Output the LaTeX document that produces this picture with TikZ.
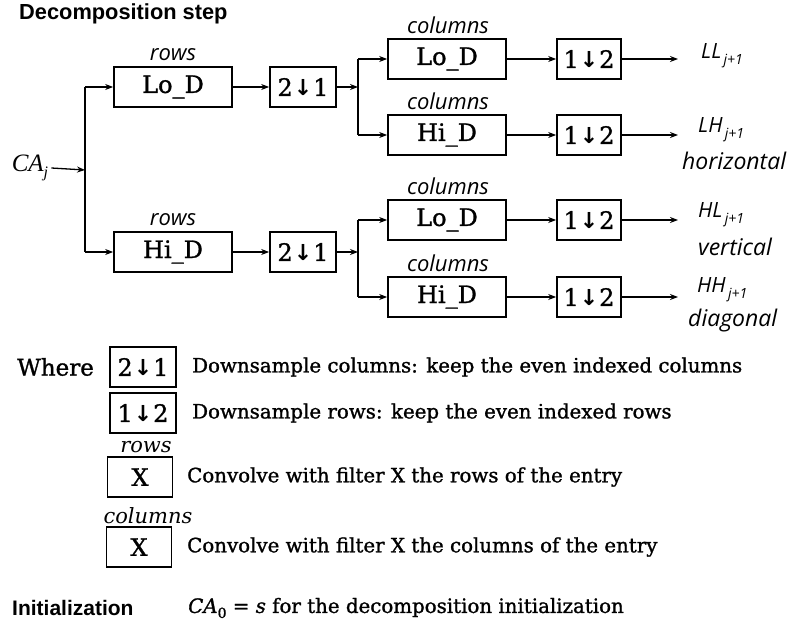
\documentclass[tikz,border=0pt]{standalone}
\usepackage{fontspec}
\setmainfont{DejaVu Serif}
\newfontfamily\srf{DejaVu Serif}[FakeBold=1.2]
\newfontfamily\labf{Open Sans}
\newfontfamily\helv{Liberation Sans}
\newfontfamily\tms{Liberation Serif}
\newfontfamily\djs{DejaVu Sans}
\usetikzlibrary{arrows.meta}

\newcommand\dnarrow{\raisebox{0.5pt}{\djs\bfseries\fontsize{22}{22}\selectfont ↓}}
\newcommand\dnbox[2]{#1\hspace{1pt}\dnarrow\hspace{1pt}#2}
\newcommand\subj[1]{\raisebox{-6pt}{\fontsize{14}{14}\selectfont\,#1}}

\tikzset{
  blk/.style={draw, line width=1.7pt, minimum height=40pt, inner sep=0pt, font=\srf\fontsize{24}{26}\selectfont},
  filt/.style={blk, minimum width=118pt},
  dsb/.style={blk, minimum width=66pt},
  conn/.style={line width=1.3pt, -{Stealth[length=8pt,width=6pt]}},
  wire/.style={line width=1.3pt},
  toplab/.style={font=\labf\itshape\fontsize{22}{24}\selectfont, inner sep=0pt},
  outlab/.style={font=\labf\itshape\fontsize{21}{23}\selectfont, inner sep=0pt, anchor=west},
  desclab/.style={font=\labf\itshape\fontsize{23}{25}\selectfont, inner sep=0pt, anchor=west},
  legtxt/.style={font=\srf\fontsize{19.8}{23}\selectfont, inner sep=0pt, anchor=west},
  leglab/.style={font=\itshape\fontsize{21}{23}\selectfont, inner sep=0pt},
  headlab/.style={font=\helv\bfseries\fontsize{21.8}{24}\selectfont, inner sep=0pt, anchor=west},
}

\begin{document}
\begin{tikzpicture}[x=1pt,y=-1pt]
\useasboundingbox (0,0) rectangle (794,631);

\node[headlab] (title) at (19,14) {Decomposition step};

% input
\node[font=\tms\itshape\fontsize{25}{27}\selectfont, inner sep=0pt] (ca) at (30,168) {CA\raisebox{-6pt}{\fontsize{16}{16}\selectfont j}};
\coordinate (sp0) at (85,170);

% row filters
\node[filt] (rlo) at (173,87) {Lo\_D};
\node[filt] (rhi) at (173,252) {Hi\_D};
\node[toplab] (rlol) at (173,55) {rows};
\node[toplab] (rhil) at (173,220) {rows};

\node[dsb] (d21a) at (303,87) {\dnbox21};
\node[dsb] (d21b) at (303,252) {\dnbox21};
\coordinate (spa) at (358,87);
\coordinate (spb) at (358,252);

% column filters
\node[filt] (c1) at (447,59) {Lo\_D};
\node[filt] (c2) at (447,135) {Hi\_D};
\node[filt] (c3) at (447,220) {Lo\_D};
\node[filt] (c4) at (447,297) {Hi\_D};
\node[toplab] (c1l) at (448,25) {columns};
\node[toplab] (c2l) at (448,101) {columns};
\node[toplab] (c3l) at (448,186) {columns};
\node[toplab] (c4l) at (448,263) {columns};

\node[dsb, minimum width=64pt] (e1) at (589,59) {\dnbox12};
\node[dsb, minimum width=64pt] (e2) at (589,135) {\dnbox12};
\node[dsb, minimum width=64pt] (e3) at (589,220) {\dnbox12};
\node[dsb, minimum width=64pt] (e4) at (589,297) {\dnbox12};

\coordinate (o1) at (678,59);
\coordinate (o2) at (678,135);
\coordinate (o3) at (678,220);
\coordinate (o4) at (678,297);

\node[outlab] (l1) at (701,56) {LL\subj{j+1}};
\node[outlab] (l2) at (698,130) {LH\subj{j+1}};
\node[desclab] (l2b) at (682,161) {horizontal};
\node[outlab] (l3) at (698,215) {HL\subj{j+1}};
\node[desclab] (l3b) at (698,247) {vertical};
\node[outlab] (l4) at (697,290) {HH\subj{j+1}};
\node[desclab] (l4b) at (688,321) {diagonal};

% connectors
\draw[conn] ([xshift=3pt]ca.east) -- (sp0);
\draw[wire] (sp0 |- rlo.west) -- (sp0 |- rhi.west);
\draw[conn] (sp0 |- rlo.west) -- (rlo.west);
\draw[conn] (sp0 |- rhi.west) -- (rhi.west);
\draw[conn] (rlo) -- (d21a);
\draw[conn] (rhi) -- (d21b);
\draw[conn] (d21a) -- (spa);
\draw[conn] (d21b) -- (spb);
\draw[wire] (spa |- c1.west) -- (spa |- c2.west);
\draw[wire] (spb |- c3.west) -- (spb |- c4.west);
\draw[conn] (spa |- c1.west) -- (c1.west);
\draw[conn] (spa |- c2.west) -- (c2.west);
\draw[conn] (spb |- c3.west) -- (c3.west);
\draw[conn] (spb |- c4.west) -- (c4.west);
\draw[conn] (c1) -- (e1);
\draw[conn] (c2) -- (e2);
\draw[conn] (c3) -- (e3);
\draw[conn] (c4) -- (e4);
\draw[conn] (e1) -- (o1);
\draw[conn] (e2) -- (o2);
\draw[conn] (e3) -- (o3);
\draw[conn] (e4) -- (o4);

% legend
\node[anchor=west, font=\srf\fontsize{23}{25}\selectfont, inner sep=0pt] (where) at (17,367) {Where};
\node[dsb] (l21) at (143,367) {\dnbox21};
\node[legtxt] (t21) at (192,367) {Downsample columns: keep the even indexed columns};
\node[dsb] (l12) at (143,413) {\dnbox12};
\node[legtxt] (t12) at (192,413) {Downsample rows: keep the even indexed rows};
\node[leglab] (lrows) at (146,447) {rows};
\node[blk, minimum width=65pt] (lx1) at (140,477) {X};
\node[legtxt] (tx1) at (187,477) {Convolve with filter X the rows of the entry};
\node[leglab] (lcols) at (148,516) {columns};
\node[blk, minimum width=65pt] (lx2) at (139,547) {X};
\node[legtxt] (tx2) at (187,547) {Convolve with filter X the columns of the entry};

\node[headlab, font=\helv\bfseries\fontsize{21}{23}\selectfont] (init) at (12,608) {Initialization};
\node[legtxt] (initt) at (188,608) {{\itshape CA}\raisebox{-5pt}{\fontsize{14}{14}\selectfont 0} = {\itshape s} for the decomposition initialization};
\end{tikzpicture}
\end{document}
